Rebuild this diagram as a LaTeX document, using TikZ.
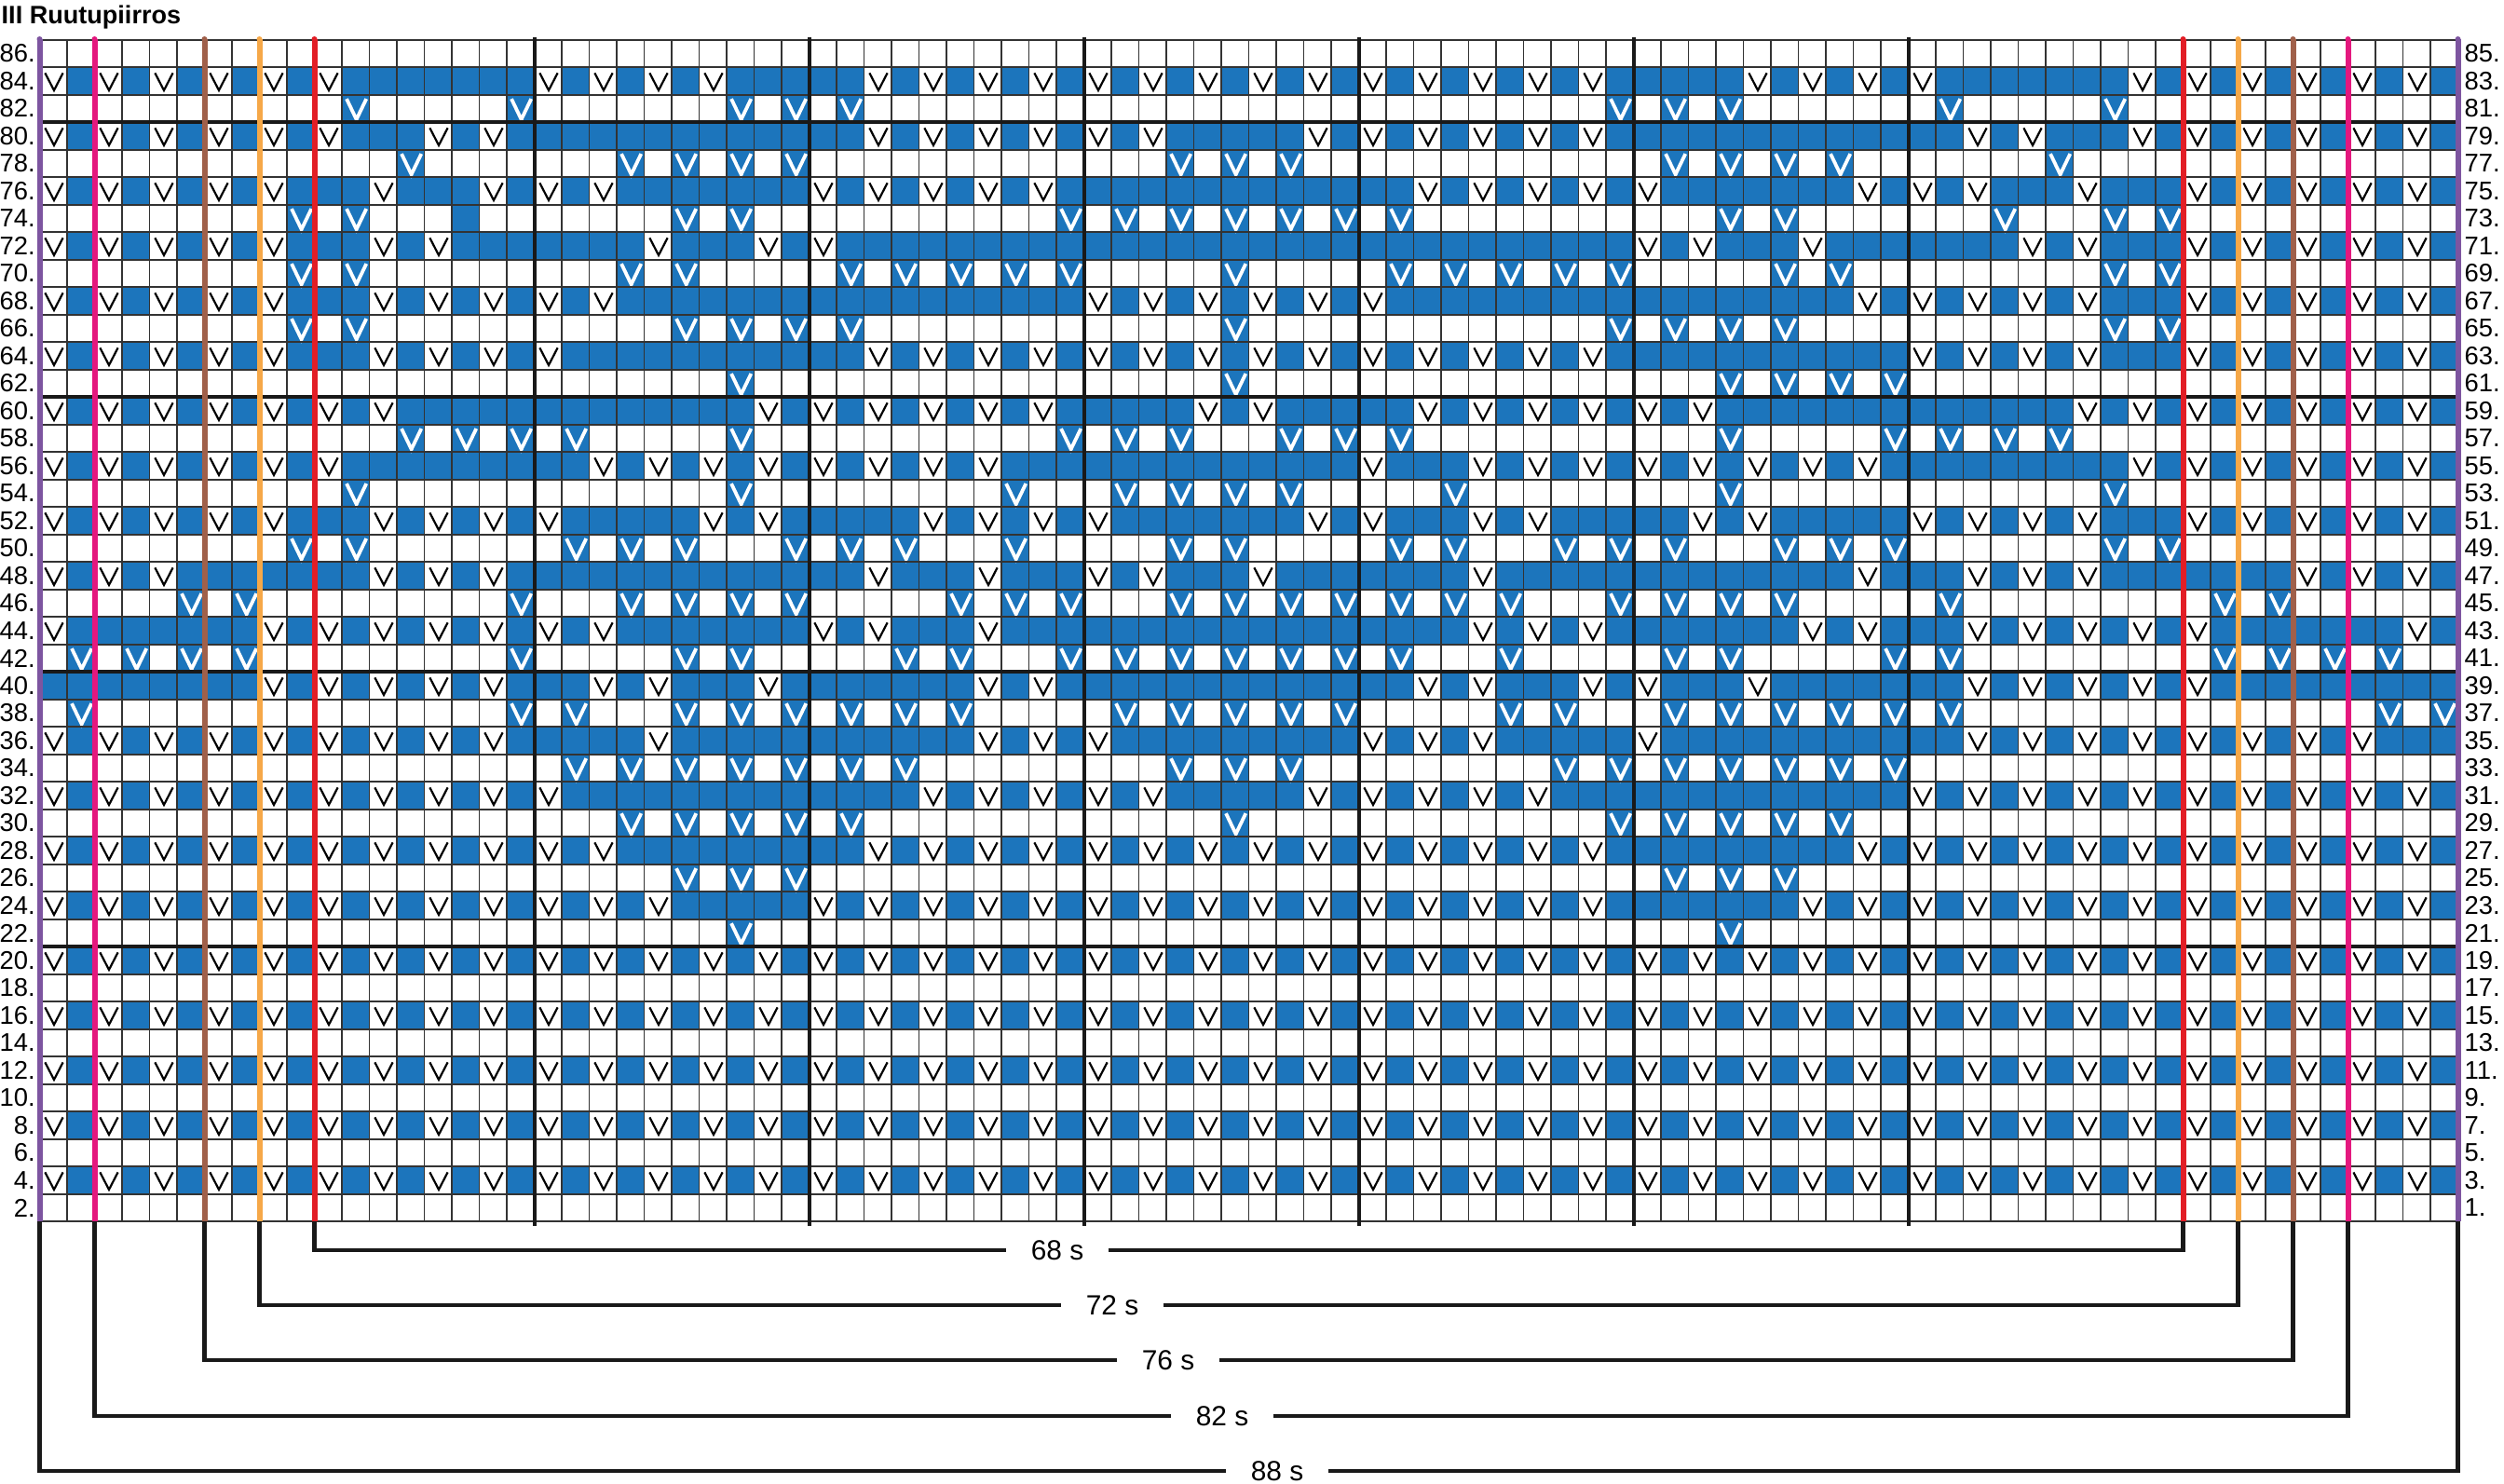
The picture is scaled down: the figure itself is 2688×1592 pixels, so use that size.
\documentclass[tikz,border=0pt]{standalone}
\usepackage{fontspec}
\setmainfont{Liberation Sans}
\definecolor{kblue}{RGB}{28,117,188}
\definecolor{kpurple}{RGB}{125,85,160}
\definecolor{kpink}{RGB}{228,24,126}
\definecolor{kbrown}{RGB}{160,96,74}
\definecolor{korange}{RGB}{246,168,72}
\definecolor{kred}{RGB}{226,30,38}
\newcommand\kS{29.5}
\newcommand\kX{42.5}
\newcommand\kY{42.7}
\newcommand\kBrow[2]{\foreach \kc in {#2}{\expandafter\gdef\csname kb-#1-\kc\endcsname{}}}
\newcommand\kWrow[2]{\foreach \kc in {#2}{%
  \fill[kblue] ({\kX+\kc*\kS},{\kY+#1*\kS}) rectangle ++(\kS,\kS);
  \draw[vwht] ({\kX+(\kc+0.17)*\kS},{\kY+(#1+0.15)*\kS}) -- ++({0.36*\kS},{0.75*\kS}) -- ++({0.36*\kS},{-0.75*\kS});}}
\begin{document}
\begin{tikzpicture}[x=0.1mm,y=-0.1mm,
  vblk/.style={line width=0.22mm,black},
  vwht/.style={line width=0.38mm,white},
  gridthin/.style={line width=0.16mm,black!80},
  gridthick/.style={line width=0.4mm,black!90},
  colline/.style={line width=0.6mm},
  brk/.style={line width=0.45mm,black!90},
  blab/.style={font=\fontsize{8.5pt}{10pt}\selectfont,inner xsep=2.6mm,inner ysep=0.5mm},
  rlab/.style={font=\fontsize{7.8pt}{9pt}\selectfont,inner sep=0pt}]
\useasboundingbox (0,0) rectangle (2688,1592);
\fill[white] (0,0) rectangle (2688,1592);

% blue even cells in slip rows
\kBrow{1}{12,14,16,26,28,58,60,70,72,74}
\kBrow{3}{12,18,20,22,24,26,28,42,44,58,60,62,64,66,68,74}
\kBrow{5}{10,14,22,24,26,38,40,42,44,46,48,60,62,64,72,76}
\kBrow{7}{10,16,18,20,24,30,32,34,36,38,40,42,44,46,48,50,52,54,56,62,66,68,70,76}
\kBrow{9}{10,22,24,26,28,30,32,34,36,50,52,54,56,58,60,62,64,76}
\kBrow{11}{10,20,22,24,26,28,58,60,62,64,66,76}
\kBrow{13}{14,16,18,20,22,24,38,40,46,48,62,64,66,68,70,72}
\kBrow{15}{12,14,16,18,36,38,40,42,44,46,50,68,70,72,74}
\kBrow{17}{10,20,22,28,30,40,42,44,50,56,58,64,66,76}
\kBrow{19}{6,8,10,18,20,22,24,26,28,32,36,42,46,48,50,54,56,58,60,62,64,68,76,78,80}
\kBrow{21}{2,4,6,22,24,26,32,36,38,40,42,44,46,48,50,58,60,62,68,80,82,84}
\kBrow{23}{0,2,4,6,18,24,28,30,32,38,40,42,44,46,48,54,60,64,66,68,80,82,84,86}
\kBrow{25}{18,20,24,26,28,30,32,40,42,44,46,54,56,60,62,64,66,68,86}
\kBrow{27}{20,22,24,26,28,30,42,44,56,58,60,62,64,66}
\kBrow{29}{22,24,26,28,58,60,62,64}
\kBrow{31}{24,26,58,60,62}

% slip rows
\foreach \kr in {1,3,...,41}{
  \fill[kblue] ({\kX},{\kY+\kr*\kS}) rectangle ++({88*\kS},\kS);
  \foreach \kc in {0,2,...,86}{
    \ifcsname kb-\kr-\kc\endcsname\else
      \fill[white] ({\kX+\kc*\kS},{\kY+\kr*\kS}) rectangle ++(\kS,\kS);
      \draw[vblk] ({\kX+(\kc+0.2)*\kS},{\kY+(\kr+0.21)*\kS}) -- ++({0.325*\kS},{0.63*\kS}) -- ++({0.325*\kS},{-0.63*\kS});
    \fi
  }
}

% sparse rows
\kWrow{2}{11,17,25,27,29,57,59,61,69,75}
\kWrow{4}{13,21,23,25,27,41,43,45,59,61,63,65,73}
\kWrow{6}{9,11,23,25,37,39,41,43,45,47,49,61,63,71,75,77}
\kWrow{8}{9,11,21,23,29,31,33,35,37,43,49,51,53,55,57,63,65,75,77}
\kWrow{10}{9,11,23,25,27,29,43,57,59,61,63,75,77}
\kWrow{12}{25,43,61,63,65,67}
\kWrow{14}{13,15,17,19,25,37,39,41,45,47,49,61,67,69,71,73}
\kWrow{16}{11,25,35,39,41,43,45,51,61,75}
\kWrow{18}{9,11,19,21,23,27,29,31,35,41,43,49,51,55,57,59,63,65,67,75,77}
\kWrow{20}{5,7,17,21,23,25,27,33,35,37,41,43,45,47,49,51,53,57,59,61,63,69,79,81}
\kWrow{22}{1,3,5,7,17,23,25,31,33,37,39,41,43,45,47,49,53,59,61,67,69,79,81,83,85}
\kWrow{24}{1,17,19,23,25,27,29,31,33,39,41,43,45,47,53,55,59,61,63,65,67,69,85,87}
\kWrow{26}{19,21,23,25,27,29,31,41,43,45,55,57,59,61,63,65,67}
\kWrow{28}{21,23,25,27,29,43,57,59,61,63,65}
\kWrow{30}{23,25,27,59,61,63}
\kWrow{32}{25,61}
\fill[kblue] ({\kX+15*\kS},{\kY+6*\kS}) rectangle ++(\kS,\kS);

% thin grid
\foreach \ki in {0,...,88}
  \draw[gridthin] ({\kX+\ki*\kS},\kY) -- ++(0,{43*\kS});
\foreach \kj in {0,...,43}
  \draw[gridthin] (\kX,{\kY+\kj*\kS}) -- ++({88*\kS},0);
% thick grid
\foreach \ki in {18,28,38,48,58,68}
  \draw[gridthick] ({\kX+\ki*\kS},40) -- ({\kX+\ki*\kS},1316);
\foreach \kj in {3,13,23,33}
  \draw[gridthick] (\kX,{\kY+\kj*\kS}) -- ++({88*\kS},0);

% coloured size lines
\foreach \ki/\kcol in {0/kpurple,2/kpink,6/kbrown,8/korange,10/kred,78/kred,80/korange,82/kbrown,84/kpink,88/kpurple}{
  \draw[colline,\kcol] ({\kX+\ki*\kS},42) -- ({\kX+\ki*\kS},{\kY+43*\kS});
  \fill[\kcol] ({\kX+\ki*\kS},42) circle (3);
}

% row labels
\foreach \kr in {0,...,42}{
  \pgfmathtruncatemacro\kL{86-2*\kr}
  \pgfmathtruncatemacro\kR{85-2*\kr}
  \node[rlab,anchor=east] (L\kr) at (38.5,{\kY+(\kr+0.5)*\kS}) {\kL.};
  \node[rlab,anchor=west] (R\kr) at (2645,{\kY+(\kr+0.5)*\kS}) {\kR.};
}

% title
\node[anchor=base west,inner sep=0pt,font=\bfseries\fontsize{7.7pt}{9pt}\selectfont] (title) at (1,25) {III Ruutupiirros};

% size brackets
\foreach \nm/\cl/\cr/\yy/\xx in {68/10/78/1342/1135,72/8/80/1401/1194,76/6/82/1460/1254,82/2/84/1520/1312,88/0/88/1579/1371}{
  \coordinate (bl\nm) at ({\kX+\cl*\kS},{\kY+43*\kS});
  \coordinate (br\nm) at ({\kX+\cr*\kS},{\kY+43*\kS});
  \node[blab] (lab\nm) at (\xx,\yy) {\nm\ s};
  \draw[brk] (bl\nm) |- (lab\nm);
  \draw[brk] (lab\nm) -| (br\nm);
}
\end{tikzpicture}
\end{document}
